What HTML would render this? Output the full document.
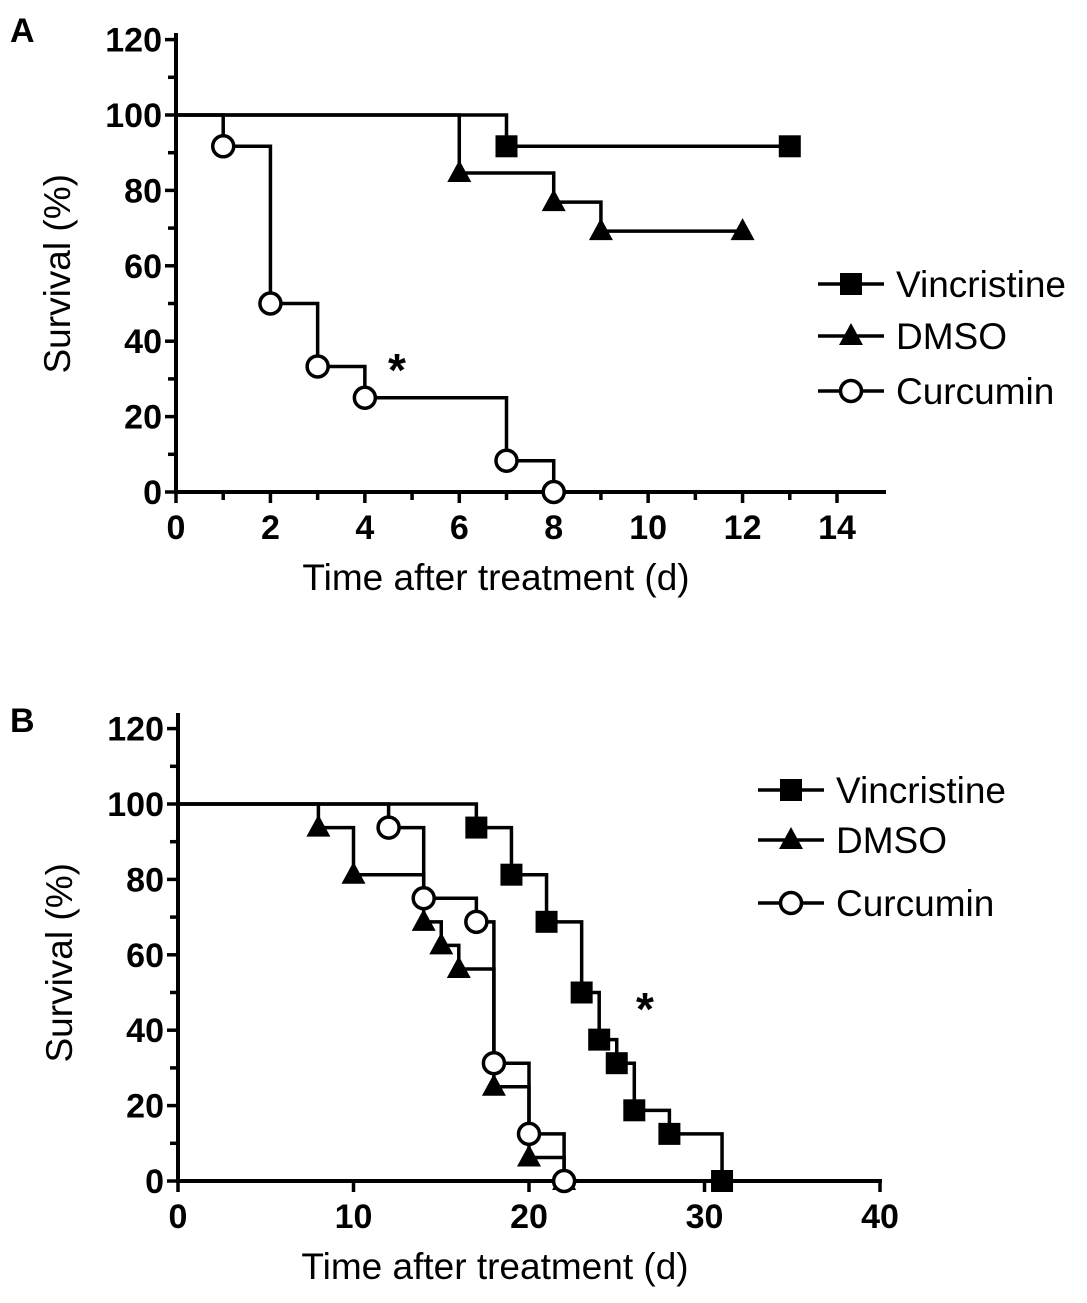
<!DOCTYPE html>
<html><head><meta charset="utf-8"><style>
body{margin:0;background:#fff}
svg{display:block;font-family:"Liberation Sans",Arial,sans-serif}
</style></head><body>
<svg id="s" width="1087" height="1303" viewBox="0 0 1087 1303" xmlns="http://www.w3.org/2000/svg"></svg>
<script>
// Panel A data
const aVinT=[7,13], aVinS=[91.7,91.7], aVinEv=[1,0];
const aDmsoT=[6,8,9,12], aDmsoS=[84.6,76.9,69.2,69.2], aDmsoEv=[1,1,1,0];
const aCurT=[1,2,3,4,7,8], aCurS=[91.7,50,33.3,25,8.3,0], aCurEv=[1,1,1,1,1,1];
const aXTicks=[0,2,4,6,8,10,12,14];
const yTicks=[0,20,40,60,80,100,120];
// Panel B data
const bVinT=[17,19,21,23,24,25,26,28,31], bVinS=[93.75,81.25,68.75,50,37.5,31.25,18.75,12.5,0];
const bDmsoT=[8,10,14,15,16,18,20,22], bDmsoS=[93.75,81.25,68.75,62.5,56.25,25,6.25,0];
const bCurT=[12,14,17,18,20,22], bCurS=[93.75,75,68.75,31.25,12.5,0];
const bXTicks=[0,10,20,30,40];
const legendLabels=["Vincristine","DMSO","Curcumin"];

const S=document.getElementById('s');
const NS='http://www.w3.org/2000/svg';
function el(tag,attrs,parent){const e=document.createElementNS(NS,tag);for(const k in attrs)e.setAttribute(k,attrs[k]);(parent||S).appendChild(e);return e;}

function panel(cfg){
  const g=el('g',{});
  
  
  const X=v=>cfg.x0+(v-cfg.xmin)*(cfg.x1-cfg.x0)/(cfg.xmax-cfg.xmin);
  const Y=v=>cfg.y0-(v)*(cfg.y0-cfg.y1)/100;
  const ya=el('line',{x1:cfg.x0,x2:cfg.x0,y1:cfg.ytop,y2:Y(0)+2,stroke:'#000','stroke-width':4},g);
  
  const xa=el('line',{x1:cfg.x0-2,x2:cfg.xend,y1:Y(0),y2:Y(0),stroke:'#000','stroke-width':4},g);
  
  for(let v=0;v<=120;v+=10){
    const major=v%20===0;
    el('line',{x1:cfg.x0-(major?11:8),x2:cfg.x0,y1:Y(v),y2:Y(v),stroke:'#000','stroke-width':3.5},g);
  }
  yTicks.forEach(v=>{const t=el('text',{x:cfg.x0-14,y:Y(v)+12,'text-anchor':'end','font-size':34,'font-weight':'bold'},g);t.textContent=v;
    });
  for(let v=cfg.xmin;v<=cfg.xmax;v+=cfg.minor){
    const major=cfg.xticks.includes(v);
    el('line',{x1:X(v),x2:X(v),y1:Y(0),y2:Y(0)+(major?11:8),stroke:'#000','stroke-width':3.5},g);
  }
  cfg.xticks.forEach(v=>{const t=el('text',{x:X(v),y:Y(0)+47,'text-anchor':'middle','font-size':34,'font-weight':'bold'},g);t.textContent=v;
    });
  const xt=el('text',{x:(cfg.x0+cfg.xend)/2+(cfg.xtOff||0),y:Y(0)+98,'text-anchor':'middle','font-size':37},g);xt.textContent='Time after treatment (d)';
  
  const yc=(Y(0)+Y(120))/2;
  const yt=el('text',{x:0,y:0,'text-anchor':'middle','font-size':37,transform:`translate(${cfg.x0-106},${yc+8}) rotate(-90)`},g);yt.textContent='Survival (%)';
  
  const lab=el('text',{x:10,y:cfg.labY,'font-size':34,'font-weight':'bold'},g);lab.textContent=cfg.label;
  
  cfg.series.forEach((s,i)=>{
    let d=`M${X(cfg.xmin)},${Y(100)}`;let prev=100;
    s.t.forEach((t,j)=>{d+=` L${X(t)},${Y(prev)} L${X(t)},${Y(s.s[j])}`;prev=s.s[j];});
    const p=el('path',{d:d,fill:'none',stroke:'#000','stroke-width':3.5},g);
    
    s.t.forEach((t,j)=>{const m=marker(g,s.key,X(t),Y(s.s[j]));
      });
  });
  cfg.legY.forEach((ly,i)=>{
    const key=['vincristine','dmso','curcumin'][i];
    el('line',{x1:cfg.legX,x2:cfg.legX+66,y1:ly,y2:ly,stroke:'#000','stroke-width':3.5},g);
    const m=marker(g,key,cfg.legX+33,ly);
    
    const t=el('text',{x:cfg.legX+78,y:ly+13,'font-size':37},g);t.textContent=legendLabels[i];
    
  });
  const a=el('text',{x:cfg.star[0],y:cfg.star[1],'font-size':46,'font-weight':'bold','text-anchor':'middle'},g);a.textContent='*';
  
}
function marker(g,key,x,y){
  if(key==='vincristine') return el('rect',{x:x-11,y:y-11,width:22,height:22,fill:'#000'},g);
  if(key==='dmso') return el('polygon',{points:`${x},${y-13} ${x+12},${y+9} ${x-12},${y+9}`,fill:'#000'},g);
  return el('circle',{cx:x,cy:y,r:10.5,fill:'#fff',stroke:'#000','stroke-width':3.5},g);
}
panel({name:'panel-a',label:'A',labY:42,x0:176,x1:837,xmin:0,xmax:14,xend:886,minor:1,xticks:aXTicks,y0:492,y1:115,ytop:33,
  series:[{key:'vincristine',t:aVinT,s:aVinS},{key:'dmso',t:aDmsoT,s:aDmsoS},{key:'curcumin',t:aCurT,s:aCurS}],
  legX:818,legY:[284,336,391],star:[397,386],xtOff:-35});
panel({name:'panel-b',label:'B',labY:732,x0:178,x1:880,xmin:0,xmax:40,xend:882,minor:10,xticks:bXTicks,y0:1181,y1:804,ytop:713,
  series:[{key:'vincristine',t:bVinT,s:bVinS},{key:'dmso',t:bDmsoT,s:bDmsoS},{key:'curcumin',t:bCurT,s:bCurS}],
  legX:758,legY:[790,840,903],star:[645,1025],xtOff:-35});
</script>
</body></html>
